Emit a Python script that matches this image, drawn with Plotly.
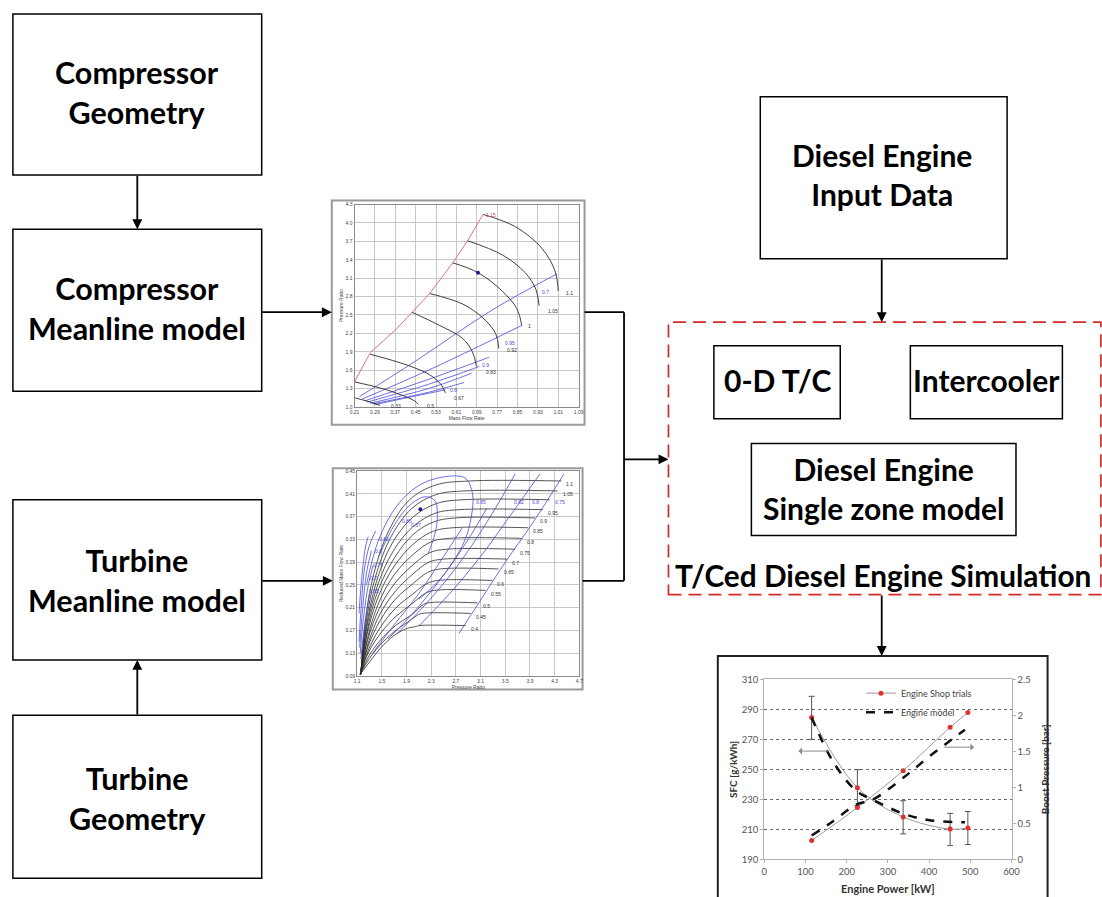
import plotly.graph_objects as go

W, H = 1102, 897


def px(x):
    return x / W


def py(y):
    return 1 - y / H


# ------------------------------------------------------------------ data
# --- compressor map (Mass Flow Rate vs Pressure Ratio)
comp_x_ticks = [0.21, 0.29, 0.37, 0.45, 0.53, 0.61, 0.69, 0.77, 0.85, 0.93, 1.01, 1.09]
comp_y_ticks = [1.0, 1.3, 1.6, 1.9, 2.2, 2.5, 2.8, 3.1, 3.4, 3.7, 4.0, 4.3]
comp_surge_x = [0.21, 0.21, 0.272, 0.376, 0.505, 0.596, 0.654, 0.715]
comp_surge_y = [1.12, 1.41, 1.885, 2.277, 2.85, 3.35, 3.71, 4.14]
comp_speed_names = ["1.1", "1.05", "1", "0.92", "0.83", "0.67", "0.5", "0.33"]
comp_speed_x = [
    [0.715, 0.841, 0.945, 0.997, 1.01],
    [0.654, 0.79, 0.88, 0.922, 0.935],
    [0.596, 0.695, 0.79, 0.848, 0.867],
    [0.505, 0.634, 0.712, 0.764, 0.777],
    [0.436, 0.544, 0.634, 0.673, 0.689],
    [0.272, 0.414, 0.505, 0.55, 0.567],
    [0.21, 0.311, 0.389, 0.447, 0.46],
    [0.21, 0.259, 0.311],
]
comp_speed_y = [
    [4.14, 3.94, 3.59, 3.22, 2.89],
    [3.71, 3.48, 3.19, 2.92, 2.65],
    [3.35, 3.19, 2.89, 2.60, 2.33],
    [2.85, 2.68, 2.46, 2.20, 1.955],
    [2.545, 2.33, 2.12, 1.90, 1.66],
    [1.86, 1.687, 1.526, 1.365, 1.23],
    [1.41, 1.31, 1.204, 1.097, 1.043],
    [1.15, 1.097, 1.027],
]
comp_speed_lab_x = [1.032, 0.962, 0.885, 0.80, 0.717, 0.592, 0.485, 0.345]
comp_speed_lab_y = [2.86, 2.57, 2.32, 1.93, 1.575, 1.15, 1.02, 1.02]
comp_eff_x = [
    [0.23, 0.45, 0.75, 1.005],
    [0.24, 0.50, 0.867],
    [0.25, 0.50, 0.738],
    [0.26, 0.50, 0.70],
    [0.27, 0.50, 0.67],
    [0.28, 0.50, 0.64],
    [0.29, 0.45, 0.567],
]
comp_eff_y = [
    [1.17, 1.75, 2.58, 3.17],
    [1.13, 1.60, 2.33],
    [1.10, 1.45, 1.81],
    [1.08, 1.37, 1.66],
    [1.06, 1.30, 1.55],
    [1.05, 1.24, 1.40],
    [1.04, 1.18, 1.28],
]
comp_eff_names = ["0.7", "0.95", "0.9", "0.8"]
comp_eff_lab_x = [0.94, 0.792, 0.703, 0.578]
comp_eff_lab_y = [2.88, 2.04, 1.69, 1.27]
comp_op_x = [0.695]
comp_op_y = [3.19]

# --- turbine map (Pressure Ratio vs Reduced Mass Flow Rate)
turb_x_ticks = [1.1, 1.5, 1.9, 2.3, 2.7, 3.1, 3.5, 3.9, 4.3, 4.7]
turb_y_ticks = [0.09, 0.13, 0.17, 0.21, 0.25, 0.29, 0.33, 0.37, 0.41, 0.45]
turb_speed_names = ["1.1", "1.05", "", "0.95", "0.9", "0.85", "0.8", "0.75",
                    "0.7", "0.65", "0.6", "0.55", "0.5", "0.45", "0.4"]
turb_speed_x = [
    [1.16, 1.23, 1.37, 1.61, 1.95, 2.38, 2.91, 4.41],
    [1.16, 1.24, 1.39, 1.64, 1.98, 2.38, 2.85, 4.35],
    [1.16, 1.25, 1.41, 1.66, 2.00, 2.38, 2.80, 4.22],
    [1.155, 1.25, 1.42, 1.68, 2.00, 2.36, 2.75, 4.11],
    [1.155, 1.26, 1.43, 1.70, 2.00, 2.34, 2.70, 3.98],
    [1.155, 1.26, 1.44, 1.70, 2.00, 2.32, 2.65, 3.87],
    [1.15, 1.27, 1.45, 1.70, 2.00, 2.30, 2.60, 3.77],
    [1.15, 1.27, 1.46, 1.71, 2.00, 2.28, 2.55, 3.66],
    [1.15, 1.28, 1.47, 1.72, 2.00, 2.26, 2.50, 3.53],
    [1.15, 1.28, 1.48, 1.72, 2.00, 2.24, 2.45, 3.39],
    [1.15, 1.29, 1.49, 1.73, 2.00, 2.22, 2.40, 3.29],
    [1.15, 1.29, 1.50, 1.74, 2.00, 2.20, 2.35, 3.18],
    [1.15, 1.30, 1.51, 1.74, 2.00, 2.15, 2.25, 3.05],
    [1.15, 1.30, 1.52, 1.75, 1.95, 2.08, 2.15, 2.94],
    [1.15, 1.31, 1.53, 1.75, 1.92, 2.05, 2.10, 2.86],
]
turb_speed_y = [
    [0.093, 0.183, 0.270, 0.345, 0.400, 0.426, 0.4328, 0.4328],
    [0.093, 0.180, 0.262, 0.333, 0.384, 0.409, 0.4154, 0.4154],
    [0.093, 0.177, 0.255, 0.322, 0.369, 0.393, 0.3998, 0.3998],
    [0.093, 0.172, 0.246, 0.309, 0.352, 0.376, 0.3824, 0.3824],
    [0.093, 0.168, 0.238, 0.297, 0.338, 0.361, 0.3679, 0.3679],
    [0.093, 0.163, 0.229, 0.283, 0.321, 0.344, 0.3506, 0.3506],
    [0.093, 0.158, 0.219, 0.268, 0.303, 0.326, 0.3320, 0.3320],
    [0.093, 0.153, 0.209, 0.253, 0.285, 0.307, 0.3129, 0.3129],
    [0.093, 0.148, 0.199, 0.239, 0.269, 0.290, 0.2955, 0.2955],
    [0.093, 0.143, 0.189, 0.225, 0.252, 0.272, 0.2782, 0.2782],
    [0.093, 0.138, 0.178, 0.210, 0.234, 0.252, 0.2579, 0.2579],
    [0.093, 0.133, 0.168, 0.196, 0.218, 0.235, 0.2405, 0.2405],
    [0.093, 0.127, 0.157, 0.180, 0.199, 0.214, 0.2185, 0.2185],
    [0.093, 0.121, 0.150, 0.172, 0.187, 0.197, 0.2000, 0.2000],
    [0.093, 0.116, 0.145, 0.165, 0.174, 0.177, 0.1786, 0.1786],
]
turb_eff_x = [
    [2.75, 3.05, 3.50, 3.95, 4.45],
    [2.10, 2.60, 3.10, 3.60, 4.06],
    [1.75, 2.20, 2.70, 3.20, 3.66],
    [1.60, 2.00, 2.45, 2.90, 3.20],
    [1.35, 1.70, 2.10, 2.50, 2.80],
    [1.25, 1.45, 1.75, 2.10, 2.50, 2.85, 2.97, 2.95, 2.85, 2.65, 2.40, 2.10],
    [1.45, 1.70, 1.95, 2.20, 2.36, 2.40, 2.36, 2.25],
    [1.13, 1.17, 1.22, 1.30, 1.40],
    [1.14, 1.19, 1.25, 1.33],
    [1.15, 1.20, 1.28, 1.36],
    [1.16, 1.22, 1.30],
    [1.13, 1.18, 1.24, 1.28],
]
turb_eff_y = [
    [0.165, 0.215, 0.290, 0.360, 0.445],
    [0.178, 0.235, 0.300, 0.375, 0.445],
    [0.165, 0.215, 0.280, 0.360, 0.445],
    [0.155, 0.200, 0.260, 0.330, 0.385],
    [0.130, 0.180, 0.235, 0.300, 0.350],
    [0.250, 0.330, 0.390, 0.425, 0.440, 0.438, 0.410, 0.370, 0.330, 0.290, 0.255, 0.225],
    [0.300, 0.355, 0.390, 0.405, 0.398, 0.370, 0.340, 0.305],
    [0.150, 0.220, 0.280, 0.320, 0.345],
    [0.140, 0.210, 0.270, 0.310],
    [0.130, 0.190, 0.250, 0.285],
    [0.120, 0.180, 0.235],
    [0.200, 0.270, 0.320, 0.335],
]
turb_eff_names = ["0.85", "0.82", "0.8", "0.75", "0.85", "0.87",
                  "0.82", "0.8", "0.75", "0.7", "0.65"]
turb_eff_lab_x = [2.99, 3.61, 3.90, 4.27, 1.79, 1.94, 1.42, 1.36, 1.32, 1.28, 1.26]
turb_eff_lab_y = [0.396, 0.396, 0.396, 0.396, 0.362, 0.356, 0.330, 0.310, 0.285, 0.262, 0.240]
turb_op_x = [2.124]
turb_op_y = [0.383]

# --- engine validation chart
power_ticks = [0, 100, 200, 300, 400, 500, 600]
sfc_ticks = [190, 210, 230, 250, 270, 290, 310]
boost_ticks = [0, 0.5, 1, 1.5, 2, 2.5]
shop_power = [115, 226, 337, 451, 494]
shop_sfc = [284.6, 237.8, 218.3, 210.2, 210.9]
shop_sfc_err_plus = [14.1, 12.0, 10.8, 10.5, 11.0]
shop_sfc_err_minus = [14.6, 11.9, 11.3, 11.0, 11.0]
shop_boost = [0.263, 0.72, 1.232, 1.834, 2.038]
model_power = [115, 167, 223, 263, 342, 405, 487]
model_sfc = [284.6, 255.2, 235.7, 229.8, 220.0, 216.0, 214.8]
model_boost = [0.331, 0.53, 0.761, 0.829, 1.155, 1.449, 1.80]

# ------------------------------------------------------------------ figure
fig = go.Figure()

GRID = "#c8c8c8"
AX = "#8a8a8a"
BLUE = "#4a4ad8"
BLK = "#2b2b2b"

# compressor map
fig.add_trace(go.Scatter(x=comp_surge_x, y=comp_surge_y, mode="lines",
                         line=dict(color="#e07080", width=1), xaxis="x", yaxis="y",
                         showlegend=False, hoverinfo="skip"))
for xs, ys in zip(comp_eff_x, comp_eff_y):
    fig.add_trace(go.Scatter(x=xs, y=ys, mode="lines", line=dict(color=BLUE, width=0.8, shape="spline"),
                             xaxis="x", yaxis="y", showlegend=False, hoverinfo="skip"))
for xs, ys in zip(comp_speed_x, comp_speed_y):
    fig.add_trace(go.Scatter(x=xs, y=ys, mode="lines", line=dict(color=BLK, width=0.9, shape="spline"),
                             xaxis="x", yaxis="y", showlegend=False, hoverinfo="skip"))
fig.add_trace(go.Scatter(x=comp_op_x, y=comp_op_y, mode="markers",
                         marker=dict(color="#1a1aa0", size=4), xaxis="x", yaxis="y",
                         showlegend=False, hoverinfo="skip"))

# turbine map
for xs, ys in zip(turb_speed_x, turb_speed_y):
    fig.add_trace(go.Scatter(x=xs, y=ys, mode="lines", line=dict(color=BLK, width=0.8, shape="spline"),
                             xaxis="x2", yaxis="y2", showlegend=False, hoverinfo="skip"))
for xs, ys in zip(turb_eff_x, turb_eff_y):
    fig.add_trace(go.Scatter(x=xs, y=ys, mode="lines", line=dict(color=BLUE, width=0.8, shape="spline"),
                             xaxis="x2", yaxis="y2", showlegend=False, hoverinfo="skip"))
fig.add_trace(go.Scatter(x=turb_op_x, y=turb_op_y, mode="markers",
                         marker=dict(color="#1a1aa0", size=4), xaxis="x2", yaxis="y2",
                         showlegend=False, hoverinfo="skip"))

# engine chart
fig.add_trace(go.Scatter(x=shop_power, y=shop_sfc, mode="lines+markers", name="Engine Shop trials",
                         line=dict(color="#9a9a9a", width=1, shape="spline"),
                         marker=dict(color="#e03030", size=5),
                         error_y=dict(type="data", array=shop_sfc_err_plus, arrayminus=shop_sfc_err_minus,
                                      color="#555555", thickness=1, width=3),
                         xaxis="x3", yaxis="y3", legendrank=1))
fig.add_trace(go.Scatter(x=shop_power, y=shop_boost, mode="lines+markers", name="Engine Shop trials",
                         line=dict(color="#9a9a9a", width=1, shape="spline"),
                         marker=dict(color="#e03030", size=5),
                         xaxis="x3", yaxis="y4", showlegend=False))
fig.add_trace(go.Scatter(x=model_power, y=model_sfc, mode="lines", name="Engine model",
                         line=dict(color="#111111", width=2.5, dash="dash", shape="spline"),
                         xaxis="x3", yaxis="y3", legendrank=2))
fig.add_trace(go.Scatter(x=model_power, y=model_boost, mode="lines", name="Engine model",
                         line=dict(color="#111111", width=2.5, dash="dash", shape="spline"),
                         xaxis="x3", yaxis="y4", showlegend=False))

# ------------------------------------------------------------------ shapes
shapes = []


def rect(x0, y0, x1, y1, color="black", width=1.5, dash="solid", fill=None):
    shapes.append(dict(type="rect", xref="paper", yref="paper",
                       x0=px(x0), x1=px(x1), y0=py(y1), y1=py(y0),
                       line=dict(color=color, width=width, dash=dash),
                       fillcolor=fill if fill else "rgba(0,0,0,0)", layer="below"))


def line(x0, y0, x1, y1, color="black", width=1.8):
    shapes.append(dict(type="line", xref="paper", yref="paper",
                       x0=px(x0), x1=px(x1), y0=py(y0), y1=py(y1),
                       line=dict(color=color, width=width)))


# left column boxes
rect(8, 8, 260, 171)
rect(8, 226, 260, 390)
rect(8, 500, 260, 662)
rect(8, 718, 260, 883)
# diesel engine input
rect(765, 92, 1015, 256)
# dashed simulation box
rect(672, 320, 1110, 596, color="#d62a2a", width=1.7, dash="13px,7px")
rect(718, 344, 846, 418)
rect(917, 344, 1071, 418)
rect(756, 443, 1024, 536)
# map frames
rect(331, 197, 587, 424, color="#9a9a9a", width=2)
rect(332, 468, 585, 692, color="#9a9a9a", width=2)
# engine chart frame
rect(722, 658, 1056, 905, color="#222222", width=2)

# connector lines
line(587, 310, 627, 310)
line(627, 310, 627, 582)
line(585, 582, 627, 582)

layout_annots = []


def text(x, y, s, size=30.5, color="black", bold=True, family="Lato"):
    layout_annots.append(dict(x=px(x), y=py(y), xref="paper", yref="paper",
                              text=("<b>%s</b>" % s) if bold else s, showarrow=False,
                              font=dict(size=size, color=color, family=family),
                              xanchor="center", yanchor="middle"))


def arrow(x0, y0, x1, y1):
    layout_annots.append(dict(x=px(x1), y=py(y1), xref="paper", yref="paper",
                              ax=x0 - x1, ay=y0 - y1, axref="pixel", ayref="pixel",
                              text="", showarrow=True, arrowhead=2, arrowsize=1.1,
                              arrowwidth=1.8, arrowcolor="black"))


text(134, 87, "Compressor<br>Geometry")
text(134, 306, "Compressor<br>Meanline model")
text(134, 581, "Turbine<br>Meanline model")
text(134, 802, "Turbine<br>Geometry")
text(888, 171, "Diesel Engine<br>Input Data", size=30)
text(782, 379, "0-D T/C", size=30)
text(994, 379, "Intercooler", size=30)
text(890, 488, "Diesel Engine<br>Single zone model", size=30)
text(889, 577, "T/Ced Diesel Engine Simulation", size=29.8)

arrow(134, 171, 134, 226)
arrow(134, 718, 134, 662)
arrow(260, 310, 331, 310)
arrow(260, 582, 332, 582)
arrow(627, 459, 672, 459)
arrow(888, 256, 888, 320)
arrow(888, 596, 888, 658)

# map labels (in data coordinates)
MAPF = dict(size=5, family="Arial", color="#333333")
for s, x, y in zip(comp_speed_names, comp_speed_lab_x, comp_speed_lab_y):
    layout_annots.append(dict(x=x, y=y, xref="x", yref="y", text=s, showarrow=False,
                              font=MAPF, xanchor="left", yanchor="middle"))
for s, x, y in zip(comp_eff_names, comp_eff_lab_x, comp_eff_lab_y):
    layout_annots.append(dict(x=x, y=y, xref="x", yref="y", text=s, showarrow=False,
                              font=dict(size=5, family="Arial", color=BLUE), xanchor="left", yanchor="middle"))
layout_annots.append(dict(x=0.72, y=4.13, xref="x", yref="y", text="1.15", showarrow=False,
                          font=dict(size=5, family="Arial", color="#d04050"), xanchor="left", yanchor="middle"))
for s, x, y in zip(turb_speed_names, turb_speed_x, turb_speed_y):
    if s:
        layout_annots.append(dict(x=x[-1] + 0.05, y=y[-1] - 0.006, xref="x2", yref="y2", text=s,
                                  showarrow=False, font=MAPF, xanchor="left", yanchor="middle"))
for s, x, y in zip(turb_eff_names, turb_eff_lab_x, turb_eff_lab_y):
    layout_annots.append(dict(x=x, y=y, xref="x2", yref="y2", text=s, showarrow=False,
                              font=dict(size=5, family="Arial", color=BLUE), xanchor="left", yanchor="middle"))

# arrows inside engine chart
for (xa, xb, yv) in [(160, 83, 262.2), (433, 509, 264.8)]:
    layout_annots.append(dict(x=xb, y=yv, ax=xa, ay=yv, xref="x3", yref="y3", axref="x3", ayref="y3",
                              text="", showarrow=True, arrowhead=1, arrowsize=1.2, arrowwidth=1,
                              arrowcolor="#8a8a8a"))

TICKF = dict(size=5, family="Arial", color="#444444")
map_axis = dict(showgrid=True, gridcolor=GRID, gridwidth=0.8, showline=True, linecolor=AX,
                linewidth=1, mirror=True, zeroline=False, ticks="", tickfont=TICKF)

CH_TICK = dict(size=9.5, family="Lato", color="#555555")
fig.update_layout(
    width=W, height=H, margin=dict(l=0, r=0, t=0, b=0),
    paper_bgcolor="white", plot_bgcolor="white",
    shapes=shapes, annotations=layout_annots,
    xaxis=dict(domain=[px(354), px(581)], range=[0.21, 1.09], tickvals=comp_x_ticks,
               ticktext=["%.2f" % v for v in comp_x_ticks], anchor="y",
               title=dict(text="Mass Flow Rate", font=TICKF, standoff=1), **map_axis),
    yaxis=dict(domain=[py(406), py(201)], range=[1.0, 4.3], tickvals=comp_y_ticks,
               ticktext=["%.1f" % v for v in comp_y_ticks], anchor="x",
               title=dict(text="Pressure Ratio", font=TICKF, standoff=1), **map_axis),
    xaxis2=dict(domain=[px(356.7), px(581.7)], range=[1.1, 4.7], tickvals=turb_x_ticks,
                ticktext=["%.1f" % v for v in turb_x_ticks], anchor="y2",
                title=dict(text="Pressure Ratio", font=TICKF, standoff=1), **map_axis),
    yaxis2=dict(domain=[py(678.3), py(471)], range=[0.09, 0.45], tickvals=turb_y_ticks,
                ticktext=["%.2f" % v for v in turb_y_ticks], anchor="x2",
                title=dict(text="Reduced Mass Flow Rate", font=TICKF, standoff=1), **map_axis),
    xaxis3=dict(domain=[px(769), px(1019.5)], range=[0, 600], tickvals=power_ticks, anchor="y3",
                showgrid=False, showline=True, linecolor="#b0b0b0", linewidth=1, zeroline=False,
                mirror=True, ticks="outside", ticklen=3, tickcolor="#b0b0b0", tickfont=CH_TICK,
                title=dict(text="<b>Engine Power [kW]</b>", font=dict(size=11, family="Lato", color="#333"),
                           standoff=9)),
    yaxis3=dict(domain=[py(864), py(681.7)], range=[190, 310], tickvals=sfc_ticks, anchor="x3",
                showgrid=True, gridcolor="#666666", griddash="dot", gridwidth=1,
                showline=True, linecolor="#b0b0b0", linewidth=1, zeroline=False,
                ticks="outside", ticklen=3, tickcolor="#b0b0b0", tickfont=CH_TICK,
                title=dict(text="<b>SFC [g/kWh]</b>", font=dict(size=10, family="Lato", color="#333"),
                           standoff=2)),
    yaxis4=dict(range=[0, 2.5], tickvals=boost_ticks, ticktext=["0", "0.5", "1", "1.5", "2", "2.5"],
                overlaying="y3", side="right", anchor="x3", showgrid=False,
                showline=True, linecolor="#b0b0b0", linewidth=1, zeroline=False,
                ticks="outside", ticklen=3, tickcolor="#b0b0b0", tickfont=CH_TICK,
                title=dict(text="<b>Boost Pressure [bar]</b>", font=dict(size=10, family="Lato", color="#333"),
                           standoff=12)),
    legend=dict(x=px(867), y=py(681), xanchor="left", yanchor="top", bgcolor="rgba(0,0,0,0)",
                font=dict(size=9, family="Lato", color="#444"), itemwidth=30, tracegroupgap=0,
                traceorder="normal"),
    showlegend=True,
)

fig.write_html("out.html")
